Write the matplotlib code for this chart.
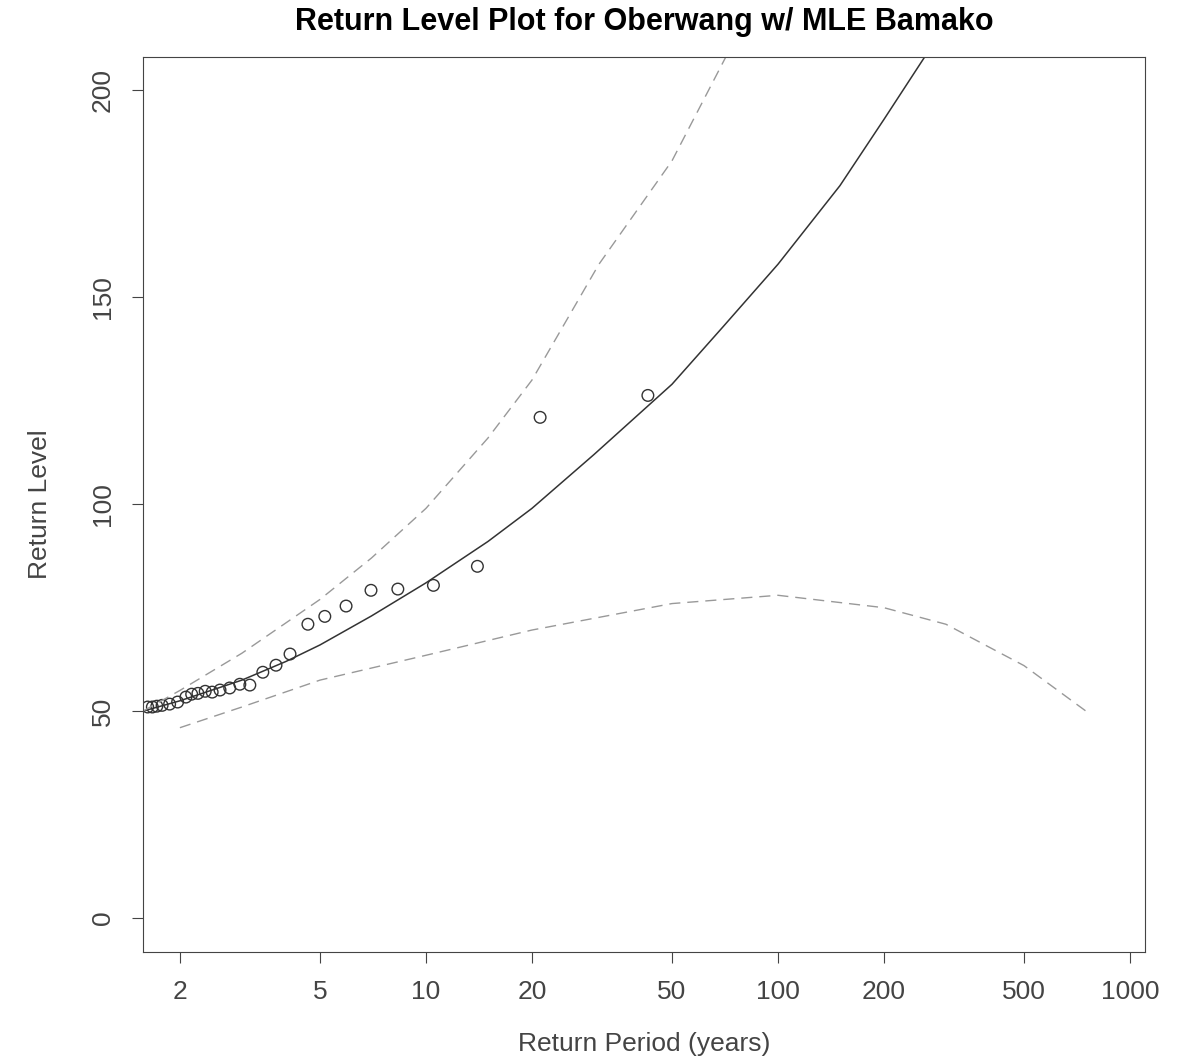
import matplotlib
matplotlib.use("Agg")
from matplotlib import pyplot as plt
from matplotlib import ticker as mticker

plt.rcParams["font.family"] = ["Liberation Sans", "DejaVu Sans"]

# fitted return level curve
fit_period = [1.57, 2, 3, 4, 5, 7, 10, 15, 20, 30, 50, 70, 100, 150, 200, 270]
fit_level = [50, 52.5, 57.5, 62, 66, 73, 81, 91, 99, 112, 129, 143, 158, 177, 193, 210]

# upper confidence band
up_period = [1.57, 2, 3, 5, 7, 10, 15, 20, 31, 50, 71]
up_level = [50, 55, 64, 77, 87, 99, 116, 130, 158, 183, 208]

# lower confidence band
lo_period = [2, 3, 5, 10, 20, 50, 100, 200, 300, 500, 750]
lo_level = [46, 51, 57.5, 63.5, 69.6, 76, 78, 75, 71, 61, 50]

# empirical points
obs_period = [1.62, 1.67, 1.72, 1.78, 1.87, 1.97, 2.08, 2.16, 2.25, 2.36, 2.47, 2.6, 2.77,
              2.96, 3.16, 3.44, 3.75, 4.11, 4.62, 5.16, 5.93, 6.98, 8.32, 10.5, 14.0, 21.1, 42.7]
obs_level = [51.0, 51.0, 51.2, 51.4, 51.7, 52.2, 53.4, 54.1, 54.3, 54.8, 54.6, 55.1, 55.6,
             56.5, 56.3, 59.4, 61.1, 63.8, 71.0, 72.9, 75.4, 79.2, 79.5, 80.4, 85.0, 121.0, 126.3]

xticks = [2, 5, 10, 20, 50, 100, 200, 500, 1000]
yticks = [0, 50, 100, 150, 200]

fig = plt.figure(figsize=(11.81, 10.62), dpi=100)
ax = fig.add_axes([0.121, 0.1036, 0.8485, 0.8424])

ax.plot(fit_period, fit_level, color="#333333", lw=1.1)
ax.plot(up_period, up_level, color="#999999", lw=1.0, ls=(0, (8, 5)))
ax.plot(lo_period, lo_level, color="#999999", lw=1.0, ls=(0, (8, 5)))
ax.scatter(obs_period, obs_level, s=70, facecolors="none", edgecolors="#333333", lw=1.0)

ax.set_xscale("log")
ax.set_xlim(1.57, 1103)
ax.set_ylim(-8.2, 208)
ax.xaxis.set_major_locator(mticker.FixedLocator(xticks))
ax.xaxis.set_major_formatter(mticker.FixedFormatter([str(t) for t in xticks]))
ax.xaxis.set_minor_locator(mticker.NullLocator())
ax.set_yticks(yticks)
ax.set_yticklabels([str(t) for t in yticks], rotation=90, va="center")
ax.tick_params(labelsize=19, colors="#444444", length=8, pad=12)
for s in ax.spines.values():
    s.set_color("#444444")

ax.set_xlabel("Return Period (years)", fontsize=19, color="#444444", labelpad=20)
ax.set_ylabel("Return Level", fontsize=19, color="#444444", labelpad=28)
ax.set_title("Return Level Plot for Oberwang w/ MLE Bamako", fontsize=22, fontweight="bold", pad=20)

plt.savefig("out.png")
